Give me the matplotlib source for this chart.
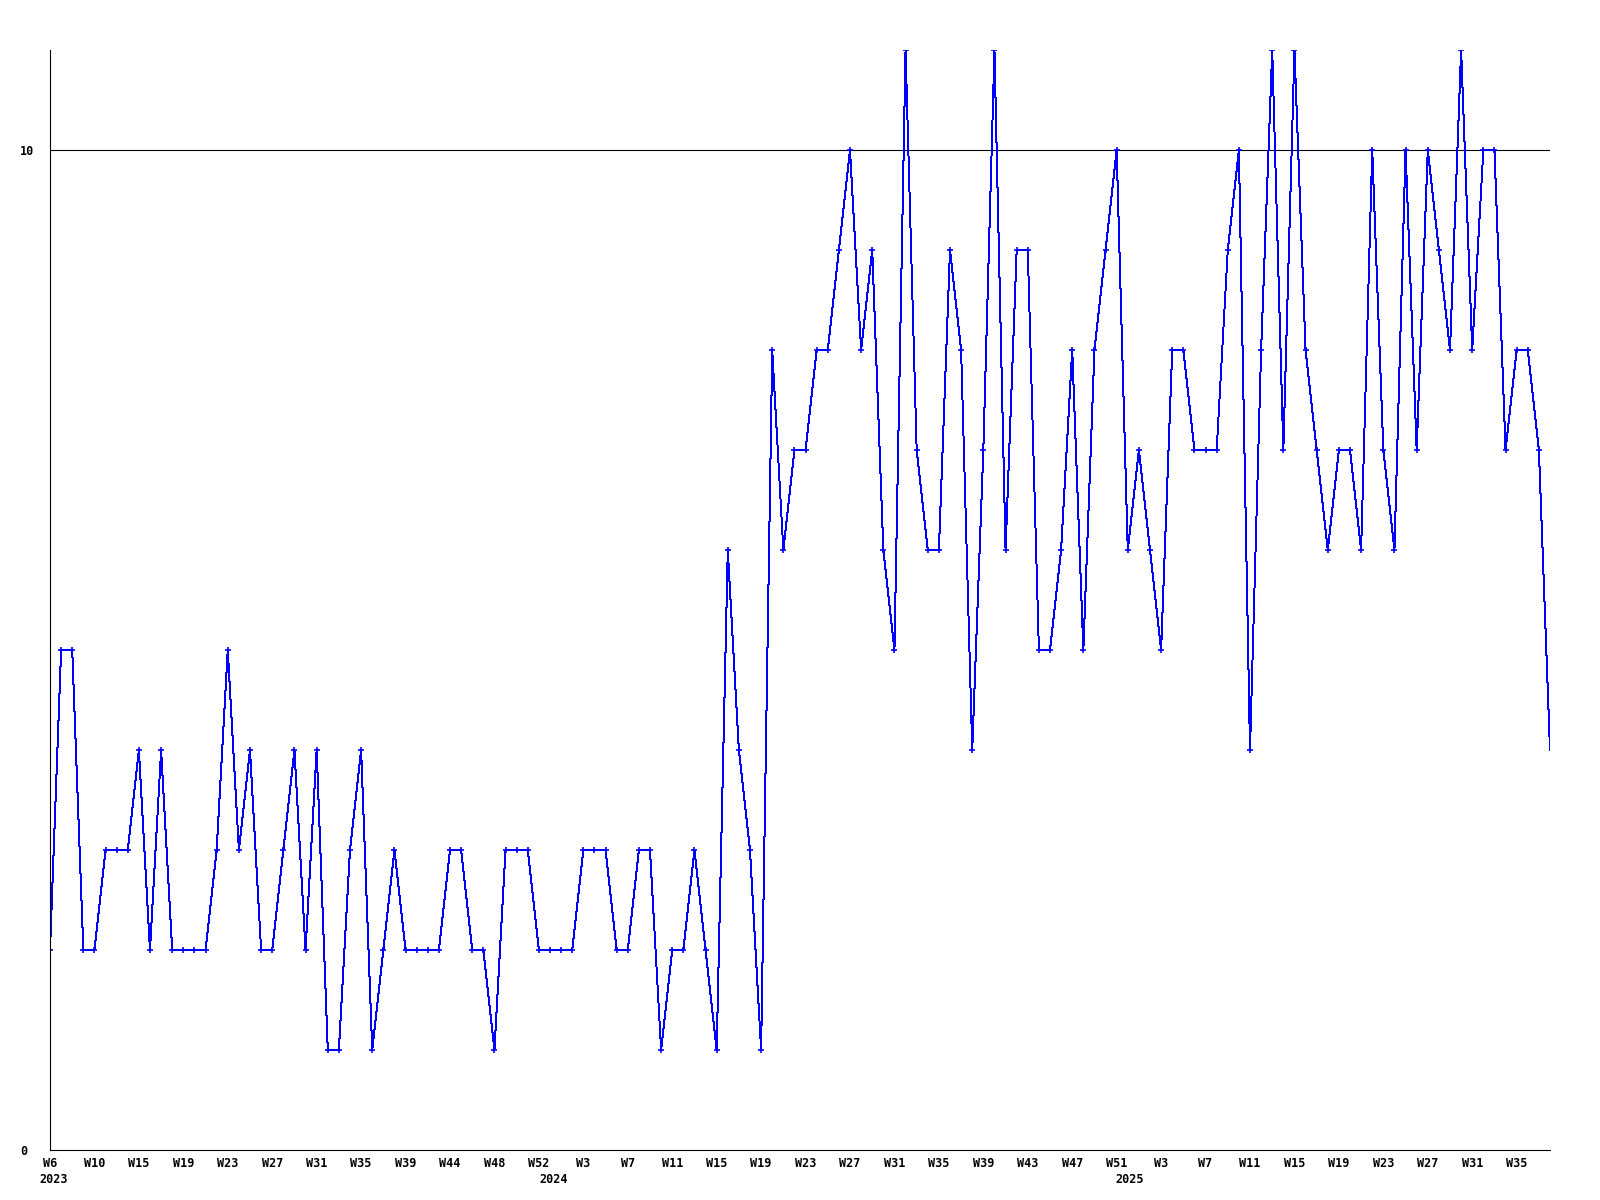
import numpy as np
import matplotlib.pyplot as plt

# weekly counts, W6 2023 .. W38 2025
values = [
    2, 5, 5, 2, 2, 3, 3, 3, 4, 2, 4, 2, 2, 2, 2, 3, 5, 3, 4, 2, 2, 3, 4, 2, 4, 1, 1, 3, 4, 1, 2, 3,
    2, 2, 2, 2, 3, 3, 2, 2, 1, 3, 3, 3, 2, 2, 2, 2, 3, 3, 3, 2, 2, 3, 3, 1, 2, 2, 3, 2, 1, 6, 4, 3, 1,
    8, 6, 7, 7, 8, 8, 9, 10, 8, 9, 6, 5, 11, 7, 6, 6, 9, 8, 4, 7, 11, 6, 9, 9, 5, 5, 6, 8, 5, 8,
    9, 10, 6, 7, 6, 5, 8, 8, 7, 7, 7, 9, 10, 4, 8, 11, 7, 11, 8, 7, 6, 7, 7, 6, 10, 7, 6, 10, 7, 10,
    9, 8, 11, 8, 10, 10, 7, 8, 8, 7, 4,
]
week_labels = [
    "W6", "W10", "W15", "W19", "W23", "W27", "W31", "W35", "W39", "W44", "W48", "W52",
    "W3", "W7", "W11", "W15", "W19", "W23", "W27", "W31", "W35", "W39", "W43", "W47", "W51",
    "W3", "W7", "W11", "W15", "W19", "W23", "W27", "W31", "W35",
]
years = ["2023", "2024", "2025"]
year_pos = [0.3, 45.3, 97.2]

x = np.arange(len(values))
font = dict(family="DejaVu Sans Mono", fontweight="bold", fontsize=8.5)

fig = plt.figure(figsize=(16, 12), dpi=100)
ax = fig.add_axes([50 / 1600, 50 / 1200, 1500 / 1600, 1100 / 1200])

ax.axhline(10, color="black", lw=0.8, zorder=1)
ax.plot(x, values, color="#0000ff", lw=0.72, marker="+", markersize=4.5, mew=1.2,
        markevery=slice(0, len(values) - 1), antialiased=False, zorder=2)

ax.set_xlim(0, len(values) - 1)
ax.set_ylim(0, 11)
for s in ["top", "right"]:
    ax.spines[s].set_visible(False)
for s in ["left", "bottom"]:
    ax.spines[s].set_linewidth(0.8)

ax.set_xticks(np.arange(0, len(values), 4))
ax.set_xticklabels(week_labels, **font)
ax.set_yticks([0, 10])
ax.set_yticklabels(["0", "10"], **font)
for lbl in ax.get_yticklabels():
    lbl.set_horizontalalignment("left")
ax.tick_params(axis="x", length=0, pad=5)
ax.tick_params(axis="y", length=0, pad=21.6)

for yr, xp in zip(years, year_pos):
    ax.annotate(yr, xy=(xp, 0), xycoords=("data", "axes fraction"),
                xytext=(0, -16.5), textcoords="offset points",
                ha="center", va="top", **font)

fig.savefig("out.png", dpi=100)
